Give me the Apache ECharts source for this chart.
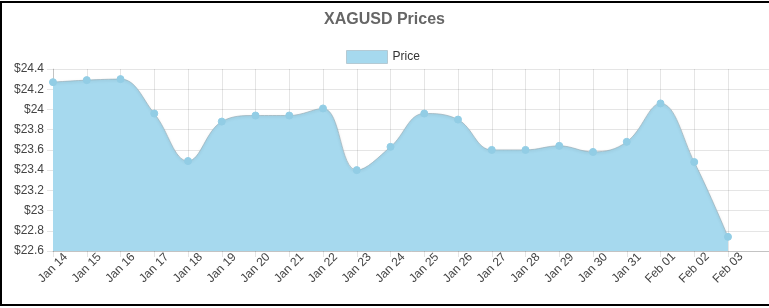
<!DOCTYPE html>
<html>
<head>
<meta charset="utf-8">
<script src="https://cdn.jsdelivr.net/npm/echarts@6/dist/echarts.min.js"></script>
<style>
html,body{margin:0;padding:0;background:#fff;}
#chart{width:769px;height:308px;}
</style>
</head>
<body>
<div id="chart"></div>
<script>
const titleText = 'XAGUSD Prices';
const seriesName = 'Price';
const categories = ['Jan 14','Jan 15','Jan 16','Jan 17','Jan 18','Jan 19','Jan 20','Jan 21','Jan 22','Jan 23','Jan 24','Jan 25','Jan 26','Jan 27','Jan 28','Jan 29','Jan 30','Jan 31','Feb 01','Feb 02','Feb 03'];
const prices = [24.27,24.29,24.30,23.96,23.49,23.88,23.94,23.94,24.01,23.40,23.63,23.96,23.90,23.60,23.60,23.64,23.58,23.68,24.06,23.48,22.74];
const yMin = 22.6, yMax = 24.4, yStep = 0.2;
const padCats = ['', ''];

const allCats = categories.concat(padCats);
const nReal = categories.length;
const chart = echarts.init(document.getElementById('chart'));
const gridColor = 'rgba(0,0,0,0.1)';
chart.setOption({
  animation: false,
  textStyle: {fontFamily: 'Liberation Sans, Arial, sans-serif'},
  title: {
    text: titleText, left: 'center', top: 7,
    textStyle: {fontSize: 16, fontWeight: 'bold', color: '#666', fontFamily: 'Liberation Sans, Arial, sans-serif'}
  },
  legend: {
    data: [{name: seriesName, icon: 'rect'}],
    top: 45, left: 341, itemWidth: 41, itemHeight: 13, itemGap: 8,
    textStyle: {fontSize: 12, color: '#333'},
    itemStyle: {color: '#a6d9ee', borderColor: 'rgba(160,180,190,0.6)', borderWidth: 1}
  },
  grid: {left: 53, top: 69, height: 182, width: 742.5, containLabel: false, outerBoundsMode: 'none'},
  xAxis: {
    type: 'category', data: allCats, boundaryGap: false,
    axisLine: {show: true, lineStyle: {color: 'rgba(0,0,0,0.15)'}},
    axisTick: {show: true, length: 6, interval: (i) => i < nReal, lineStyle: {color: gridColor}},
    splitLine: {show: true, interval: (i) => i < nReal, lineStyle: {color: gridColor}},
    axisLabel: {rotate: 45, interval: 0, fontSize: 12, color: '#444', margin: 17, align: 'center', verticalAlign: 'middle'}
  },
  yAxis: {
    type: 'value', min: yMin, max: yMax, interval: yStep,
    axisLine: {show: true, lineStyle: {color: 'rgba(0,0,0,0.15)'}},
    axisTick: {show: true, length: 6, lineStyle: {color: gridColor}},
    splitLine: {show: true, lineStyle: {color: gridColor}},
    axisLabel: {fontSize: 12, color: '#444', margin: 9,
      formatter: (v) => '$' + parseFloat(v.toFixed(1))}
  },
  series: [{
    name: seriesName, type: 'line', data: prices, smooth: 0.4,
    symbol: 'circle', symbolSize: 7, showSymbol: true,
    itemStyle: {color: '#92cde5', borderColor: '#92cde5', borderWidth: 1},
    lineStyle: {color: 'rgba(150,170,180,0.65)', width: 1, shadowColor: 'rgba(0,0,0,0.2)', shadowBlur: 3, shadowOffsetY: 1},
    areaStyle: {color: '#a6d9ee', opacity: 1}
  }],
  graphic: [{
    type: 'rect', silent: true, z: 100,
    shape: {x: 1, y: 2, width: 800, height: 303},
    style: {fill: 'none', stroke: '#000', lineWidth: 2}
  }]
});
</script>
</body>
</html>
